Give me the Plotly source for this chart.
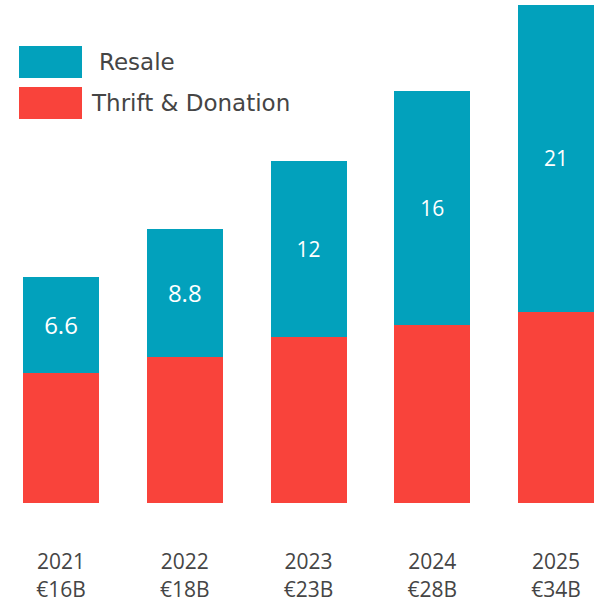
import plotly.graph_objects as go

years = ["2021", "2022", "2023", "2024", "2025"]
totals = ["€16B", "€18B", "€23B", "€28B", "€34B"]
thrift = [8.9, 10.0, 11.4, 12.2, 13.1]
resale = [6.6, 8.8, 12, 16, 21]
resale_labels = ["6.6", "8.8", "12", "16", "21"]
label_sizes = [24, 24, 21, 21, 21]

TEAL = "#02A1BC"
RED = "#F9433B"
FONT = "Open Sans"
LEG_FONT = "DejaVu Sans"
TXT = "#454545"

tick_text = [f"{y}<br>{t}" for y, t in zip(years, totals)]

fig = go.Figure()
fig.add_trace(go.Bar(
    x=years, y=thrift, name="Thrift & Donation",
    marker=dict(color=RED, line=dict(width=0)),
    hoverinfo="skip",
))
fig.add_trace(go.Bar(
    x=years, y=resale, name="Resale",
    marker=dict(color=TEAL, line=dict(width=0)),
    text=resale_labels, textposition="inside", insidetextanchor="middle",
    textangle=0, constraintext="none",
    textfont=dict(color="white", size=label_sizes, family=FONT),
    hoverinfo="skip",
))

# Legend drawn manually (large swatches)
fig.add_shape(type="rect", xref="paper", yref="paper",
              x0=19/607, x1=82/607, y0=1-78/503, y1=1-46/503,
              fillcolor=TEAL, line=dict(width=0))
fig.add_shape(type="rect", xref="paper", yref="paper",
              x0=19/607, x1=82/607, y0=1-119/503, y1=1-87/503,
              fillcolor=RED, line=dict(width=0))
fig.add_annotation(xref="paper", yref="paper", x=97/607, y=1-62/503,
                   text="Resale", showarrow=False, xanchor="left", yanchor="middle",
                   font=dict(family=LEG_FONT, size=23, color=TXT))
fig.add_annotation(xref="paper", yref="paper", x=89/607, y=1-103/503,
                   text="Thrift & Donation", showarrow=False, xanchor="left", yanchor="middle",
                   font=dict(family=LEG_FONT, size=23, color=TXT))

fig.update_layout(
    barmode="stack",
    bargap=0.386,
    width=607, height=603,
    margin=dict(l=0, r=0, t=0, b=100),
    paper_bgcolor="white", plot_bgcolor="white",
    showlegend=False,
    font=dict(family=FONT, color=TXT),
    xaxis=dict(
        type="category",
        range=[-0.493, 4.412],
        tickmode="array", tickvals=years, ticktext=tick_text,
        ticks="outside", ticklen=40, tickcolor="rgba(0,0,0,0)",
        tickfont=dict(family=FONT, size=21, color=TXT),
        showgrid=False, zeroline=False, showline=False,
    ),
    yaxis=dict(
        range=[0, 34.45], visible=False, showgrid=False, zeroline=False,
    ),
)

fig.write_html("out.html")
